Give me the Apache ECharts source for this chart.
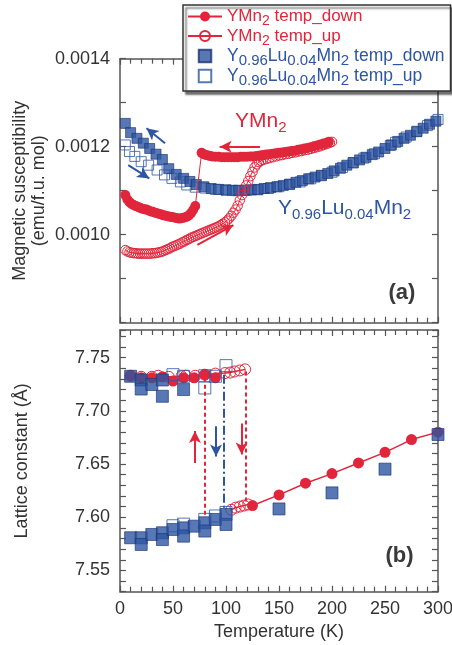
<!DOCTYPE html>
<html><head><meta charset="utf-8">
<script src="https://cdn.jsdelivr.net/npm/echarts@6/dist/echarts.min.js"></script>
<style>html,body{margin:0;padding:0;background:#fff}#c{width:452px;height:645px}</style>
</head><body><div id="c"></div>
<script>
const FONT = 'Liberation Sans, Arial, Helvetica, sans-serif';
const RED = '#e1263c', BLUE = '#2d55a3', AX = '#555', TXT = '#333';

// tick labels
const tempTicks = ['0', '50', '100', '150', '200', '250', '300'];
const chiTicks = ['0.0010', '0.0012', '0.0014'];
const latTicks = ['7.55', '7.60', '7.65', '7.70', '7.75'];

const seriesNames = ['YMn2 temp_down', 'YMn2 temp_up', 'Y0.96Lu0.04Mn2 temp_down', 'Y0.96Lu0.04Mn2 temp_up'];

// ---- (a) magnetic susceptibility [T (K), chi (emu/f.u. mol)] ----
const chiYMnDown = [
  [5,0.001090],[7,0.001080],[9,0.001074],[11,0.001070],[13,0.001067],[15,0.001065],[17,0.001063],[19,0.001061],
  [21,0.001059],[23,0.001058],[25,0.001057],[27,0.001055],[29,0.001053],[31,0.001052],[33,0.001050],[35,0.001049],
  [37,0.001047],[39,0.001046],[41,0.001044],[43,0.001043],[45,0.001042],[47,0.001041],[49,0.001040],[51,0.001039],
  [53,0.001038],[55,0.001037],[57,0.001037],[59,0.001038],[61,0.001039],[63,0.001041],[65,0.001044],[67,0.001049],
  [69,0.001056],[71,0.001065],
  [77,0.001186],[79,0.001183],[81,0.001181],[83,0.001180],[85,0.001179],[87,0.001178],[90,0.001177],[93,0.001177],
  [96,0.001176],[99,0.001176],[102,0.001176],[105,0.001176],[108,0.001176],[111,0.001176],[114,0.001177],[117,0.001177],
  [120,0.001177],[123,0.001178],[126,0.001178],[129,0.001179],[132,0.001180],[135,0.001181],[138,0.001182],[141,0.001183],
  [144,0.001184],[147,0.001185],[150,0.001186],[153,0.001187],[156,0.001188],[159,0.001189],[162,0.001190],[165,0.001191],
  [168,0.001193],[171,0.001194],[174,0.001196],[177,0.001197],[180,0.001199],[183,0.001201],[186,0.001203],[189,0.001205],
  [192,0.001207],[195,0.001209],[197,0.001211]
];
const chiYMnUp = [
  [5,0.000965],[7,0.000962],[9,0.000960],[11,0.000959],[13,0.000958],[15,0.000958],[17,0.000957],[19,0.000957],
  [21,0.000957],[23,0.000957],[25,0.000957],[27,0.000957],[29,0.000957],[31,0.000958],[33,0.000958],[35,0.000959],
  [37,0.000960],[39,0.000961],[41,0.000963],[43,0.000965],[45,0.000967],[47,0.000969],[49,0.000972],[51,0.000974],
  [53,0.000976],[55,0.000978],[57,0.000980],[59,0.000983],[61,0.000985],[63,0.000988],[65,0.000990],[67,0.000993],
  [69,0.000995],[71,0.000997],[73,0.000999],[75,0.001001],[77,0.001003],[79,0.001005],[81,0.001007],[83,0.001009],
  [85,0.001011],[87,0.001013],[89,0.001015],[91,0.001017],[93,0.001019],[95,0.001022],[97,0.001025],[99,0.001028],
  [101,0.001032],[103,0.001037],[105,0.001043],[107,0.001050],[109,0.001057],[111,0.001066],[113,0.001078],[115,0.001090],
  [117,0.001101],[119,0.001112],[121,0.001122],[123,0.001133],[125,0.001143],[127,0.001153],[129,0.001160],[131,0.001165],
  [133,0.001168],[135,0.001170],[138,0.001172],[141,0.001174],[144,0.001176],[147,0.001178],[150,0.001180],[153,0.001181],
  [156,0.001183],[159,0.001184],[162,0.001186],[165,0.001187],[168,0.001189],[171,0.001190],[174,0.001192],[177,0.001193],
  [180,0.001195],[183,0.001197],[186,0.001199],[189,0.001201],[192,0.001204],[195,0.001206],[198,0.001209],[200,0.001211]
];
const chiLuDown = [
  [5,0.001253],[10,0.001232],[16,0.001219],[22,0.001208],[28,0.001196],[34,0.001183],[40,0.001171],[46,0.001150],
  [53,0.001137],[60,0.001128],[66,0.001121],[72,0.001114],[79,0.001109],[86,0.001105],[93,0.001103],[100,0.001102],
  [106,0.001101],[112,0.001101],[118,0.001101],[124,0.001102],[130,0.001103],[136,0.001105],[142,0.001107],[148,0.001109],
  [154,0.001112],[160,0.001115],[166,0.001119],[172,0.001123],[178,0.001127],[184,0.001131],[190,0.001135],[196,0.001139],
  [202,0.001145],[208,0.001151],[214,0.001158],[220,0.001164],[226,0.001170],[232,0.001176],[238,0.001182],[244,0.001188],
  [250,0.001196],[256,0.001204],[262,0.001212],[268,0.001219],[274,0.001226],[280,0.001234],[286,0.001242],[292,0.001251],
  [298,0.001258]
];
const chiLuUp = [
  [5,0.001204],[9,0.001189],[14,0.001178],[20,0.001166],[27,0.001158],[35,0.001147],[42,0.001136],[49,0.001128],
  [57,0.001120],[63,0.001113],[71,0.001108],[80,0.001106],[90,0.001103],[100,0.001101],[110,0.001100],[120,0.001101],
  [130,0.001102],[140,0.001105],[150,0.001109],[160,0.001114],[170,0.001120],[180,0.001127],[190,0.001134],[200,0.001142],
  [210,0.001153],[220,0.001163],[230,0.001174],[240,0.001184],[255,0.001203],[260,0.001210],[270,0.001222],[280,0.001235],
  [290,0.001248],[300,0.001262]
];

// ---- (b) lattice constant [T (K), a (Å)]; null breaks the line ----
const latYMnDown = [
  [300,7.680],[275,7.673],[250,7.661],[225,7.651],[200,7.641],[175,7.632],[150,7.621],[125,7.611],
  [null,null],
  [90,7.731],[80,7.734],[70,7.731],[60,7.731],[50,7.728],[40,7.732],[30,7.731],[20,7.731],[10,7.733]
];
const latYMnUp = [
  [10,7.733],[20,7.732],[30,7.732],[36,7.733],[46,7.732],[58,7.7325],[62,7.733],[71,7.733],[80,7.734],
  [90,7.735],[99,7.7355],[104,7.736],[108,7.737],[113,7.738],[118,7.739],
  [null,null],
  [105,7.607],[109,7.609],[113,7.610],[117,7.611],[121,7.612]
];
const latLuDown = [
  [10,7.7325],[20,7.729],[20,7.7205],[30,7.7248],[40,7.729],[40,7.7137],[60,7.720],
  [10,7.5807],[20,7.5807],[20,7.5744],[30,7.5838],[40,7.5854],[40,7.5790],[50,7.5885],[60,7.5900],[60,7.5822],
  [70,7.5916],[80,7.5948],[80,7.5870],[90,7.5979],[100,7.6026],[100,7.5932],
  [150,7.6078],[200,7.6229],[250,7.6452],[300,7.6777]
];
const latLuUp = [
  [50,7.734],[60,7.7325],[80,7.733],[80,7.7215],[90,7.7325],[100,7.7425],
  [50,7.5920],[60,7.5935],[80,7.5980],[90,7.6012],[100,7.6045]
];

// ---- annotations ----
const arrowsChiRed = [[[132,0.0012],[94,0.0012]], [[73,0.000977],[107,0.001022]]];
const arrowsChiBlue = [[[42.5,0.001208],[25,0.001242]], [[7.8,0.001158],[27.6,0.001128]]];
const guideLatRed = [[[80,7.731],[80,7.600]], [[119,7.737],[119,7.614]]];
const guideLatBlue = [[[97.5,7.734],[97.5,7.606]]];
const arrowsLatRed = [[[70.75,7.651],[70.75,7.681]], [[114.8,7.688],[114.8,7.659]]];
const arrowsLatBlue = [[[90.6,7.6855],[90.6,7.657]]];

const chart = echarts.init(document.getElementById('c'), null, {renderer: 'canvas'});

const axLine = {show: true, onZero: false, lineStyle: {color: AX, width: 1.5}};
const tickStyle = {color: AX, width: 1.2};
const lblBase = {fontSize: 18, color: TXT, fontFamily: FONT};

function xAx(grid, pos, labels, name) {
  return {
    type: 'value', gridIndex: grid, position: pos, min: 0, max: 300, interval: 50,
    axisLine: axLine,
    axisTick: {show: true, inside: true, length: 6, lineStyle: tickStyle},
    minorTick: {show: true, splitNumber: 5, length: 5, lineStyle: tickStyle},
    splitLine: {show: false}, minorSplitLine: {show: false},
    axisLabel: Object.assign({show: labels, margin: 8,
      formatter: v => tempTicks.includes(String(Math.round(v))) ? String(Math.round(v)) : ''}, lblBase),
    name: name || '', nameLocation: 'middle', nameGap: 31, nameMoveOverlap: false,
    nameTextStyle: {fontSize: 18, color: TXT, fontFamily: FONT}
  };
}
function yAx(grid, pos, labels, min, max, interval, list, digits, name, gap) {
  return {
    type: 'value', gridIndex: grid, position: pos, min: min, max: max, interval: interval,
    axisLine: axLine,
    axisTick: {show: true, inside: true, length: 6, lineStyle: tickStyle},
    splitLine: {show: false},
    axisLabel: Object.assign({show: labels, margin: 10,
      formatter: v => { const s = v.toFixed(digits); return list.includes(s) ? s : ''; }}, lblBase),
    name: name || '', nameLocation: 'middle', nameGap: gap || 0, nameMoveOverlap: false,
    nameTextStyle: {fontSize: 18, lineHeight: 19, color: TXT, fontFamily: FONT}
  };
}

const toData = arr => arr.map(p => [p[0] === null ? NaN : p[0], p[1] === null ? NaN : p[1]]);
const openStyle = c => ({color: 'rgba(255,255,255,0)', borderColor: c, borderWidth: 1});

function markLines(segs, color, type, arrow, width) {
  return {
    silent: true, animation: false,
    symbol: arrow ? ['none', 'arrow'] : ['none', 'none'], symbolSize: [9, 12],
    label: {show: false},
    lineStyle: {color: color, width: width, type: type, opacity: 1},
    data: segs.map(s => [{coord: s[0]}, {coord: s[1]}])
  };
}
function helper(xi, yi, ml) {
  return {type: 'line', xAxisIndex: xi, yAxisIndex: yi, data: [], markLine: ml, animation: false, z: 6};
}

const legendText = {
  'YMn2 temp_down': '{rn|YMn}{rs|2}{rn| temp_down}',
  'YMn2 temp_up': '{rn|YMn}{rs|2}{rn| temp_up}',
  'Y0.96Lu0.04Mn2 temp_down': '{bn|Y}{bs|0.96}{bn|Lu}{bs|0.04}{bn|Mn}{bs|2}{bn| temp_down}',
  'Y0.96Lu0.04Mn2 temp_up': '{bn|Y}{bs|0.96}{bn|Lu}{bs|0.04}{bn|Mn}{bs|2}{bn| temp_up}'
};
const SQUARE = 'path://M0 0H10V10H0Z';

const option = {
  animation: false,
  backgroundColor: '#fff',
  grid: [
    {left: 120, top: 58.7, width: 318, height: 264, containLabel: false, outerBoundsMode: 'none'},
    {left: 120, top: 330, width: 318, height: 261.7, containLabel: false, outerBoundsMode: 'none'}
  ],
  xAxis: [xAx(0, 'bottom', false), xAx(0, 'top', false), xAx(1, 'bottom', true, 'Temperature (K)'), xAx(1, 'top', false)],
  yAxis: [
    yAx(0, 'left', true, 0.0008, 0.0014, 0.0001, chiTicks, 4, 'Magnetic susceptibility\n(emu/f.u. mol)', 71),
    yAx(0, 'right', false, 0.0008, 0.0014, 0.0001, chiTicks, 4),
    yAx(1, 'left', true, 7.53, 7.776, 0.01, latTicks, 2, 'Lattice constant (Å)', 88),
    yAx(1, 'right', false, 7.53, 7.776, 0.01, latTicks, 2)
  ],
  legend: {
    orient: 'vertical', left: 183, top: 5, padding: [3, 6, 3, 4],
    itemWidth: 34, itemHeight: 12.5, itemGap: -1,
    backgroundColor: '#fff', borderColor: '#333', borderWidth: 1.5,
    shadowColor: 'rgba(0,0,0,0.55)', shadowBlur: 2, shadowOffsetX: 3, shadowOffsetY: 3,
    selectedMode: false, symbolKeepAspect: true,
    lineStyle: {width: 2},
    data: [
      {name: seriesNames[0]},
      {name: seriesNames[1]},
      {name: seriesNames[2], icon: SQUARE},
      {name: seriesNames[3], icon: SQUARE}
    ],
    formatter: name => legendText[name],
    textStyle: {
      fontFamily: FONT,
      rich: {
        rn: {color: RED, fontSize: 17, lineHeight: 24, fontFamily: FONT},
        rs: {color: RED, fontSize: 14, lineHeight: 12, verticalAlign: 'bottom', fontFamily: FONT},
        bn: {color: BLUE, fontSize: 17.5, lineHeight: 24, fontFamily: FONT},
        bs: {color: BLUE, fontSize: 15, lineHeight: 12, verticalAlign: 'bottom', fontFamily: FONT}
      }
    }
  },
  series: [
    // panel (a)
    {name: seriesNames[0], type: 'line', xAxisIndex: 0, yAxisIndex: 0, data: toData(chiYMnDown),
     symbol: 'circle', symbolSize: 10, itemStyle: {color: RED}, lineStyle: {color: RED, width: 1}, z: 4},
    {name: seriesNames[1], type: 'line', xAxisIndex: 0, yAxisIndex: 0, data: toData(chiYMnUp),
     symbol: 'circle', symbolSize: 9.5, itemStyle: openStyle(RED), lineStyle: {color: RED, width: 1}, z: 5},
    {name: seriesNames[2], type: 'scatter', xAxisIndex: 0, yAxisIndex: 0, data: toData(chiLuDown),
     symbol: 'rect', symbolSize: 10, itemStyle: {color: BLUE, borderColor: '#1a336e', borderWidth: 0.8}, z: 3},
    {name: seriesNames[3], type: 'scatter', xAxisIndex: 0, yAxisIndex: 0, data: toData(chiLuUp),
     symbol: 'rect', symbolSize: 10, itemStyle: openStyle(BLUE), z: 2},
    // panel (b)
    {name: seriesNames[0], type: 'line', xAxisIndex: 2, yAxisIndex: 2, data: toData(latYMnDown),
     symbol: 'circle', symbolSize: 11, itemStyle: {color: RED}, lineStyle: {color: RED, width: 1.5}, z: 2},
    {name: seriesNames[1], type: 'line', xAxisIndex: 2, yAxisIndex: 2, data: toData(latYMnUp),
     symbol: 'circle', symbolSize: 11, itemStyle: openStyle(RED), lineStyle: {color: RED, width: 1.5}, z: 2},
    {name: seriesNames[2], type: 'scatter', xAxisIndex: 2, yAxisIndex: 2, data: toData(latLuDown),
     symbol: 'rect', symbolSize: 12, itemStyle: {color: BLUE, borderColor: '#1a336e', borderWidth: 0.8}, z: 3},
    {name: seriesNames[3], type: 'scatter', xAxisIndex: 2, yAxisIndex: 2, data: toData(latLuUp),
     symbol: 'rect', symbolSize: 12, itemStyle: openStyle(BLUE), z: 4},
    // annotations
    helper(0, 0, markLines(arrowsChiRed, RED, 'solid', true, 2)),
    helper(0, 0, markLines(arrowsChiBlue, BLUE, 'solid', true, 2)),
    helper(2, 2, markLines(guideLatRed, RED, [4, 3], false, 2)),
    helper(2, 2, markLines(guideLatBlue, BLUE, [9, 3, 2, 3], false, 2)),
    helper(2, 2, markLines(arrowsLatRed, RED, 'solid', true, 2)),
    helper(2, 2, markLines(arrowsLatBlue, BLUE, 'solid', true, 2))
  ]
};
chart.setOption(option);

// text annotations placed in data coordinates
const pa = (x, y) => chart.convertToPixel({xAxisIndex: 0, yAxisIndex: 0}, [x, y]);
const pb = (x, y) => chart.convertToPixel({xAxisIndex: 2, yAxisIndex: 2}, [x, y]);
const labelYMn = pa(108.5, 0.0012584);
const labelLu = pa(149, 0.00106);
const labelA = pa(266, 0.000867);
const labelB = pb(263.7, 7.564);
chart.setOption({
  graphic: [
    {type: 'text', x: labelYMn[0], y: labelYMn[1], z: 10, style: {
      text: '{n|YMn}{s|2}', align: 'left', verticalAlign: 'middle',
      rich: {n: {fill: RED, fontSize: 21, lineHeight: 28, fontFamily: FONT},
             s: {fill: RED, fontSize: 15, lineHeight: 15, verticalAlign: 'bottom', fontFamily: FONT}}}},
    {type: 'text', x: labelLu[0], y: labelLu[1], z: 10, style: {
      text: '{n|Y}{s|0.96}{n|Lu}{s|0.04}{n|Mn}{s|2}', align: 'left', verticalAlign: 'middle',
      rich: {n: {fill: BLUE, fontSize: 21, lineHeight: 28, fontFamily: FONT},
             s: {fill: BLUE, fontSize: 15, lineHeight: 15, verticalAlign: 'bottom', fontFamily: FONT}}}},
    {type: 'text', x: labelA[0], y: labelA[1], z: 10, style: {
      text: '(a)', align: 'center', verticalAlign: 'middle', fill: '#3a3a3a',
      fontSize: 22, fontWeight: 'bold', fontFamily: FONT}},
    {type: 'text', x: labelB[0], y: labelB[1], z: 10, style: {
      text: '(b)', align: 'center', verticalAlign: 'middle', fill: '#3a3a3a',
      fontSize: 22, fontWeight: 'bold', fontFamily: FONT}}
  ]
});
</script>
</body></html>
